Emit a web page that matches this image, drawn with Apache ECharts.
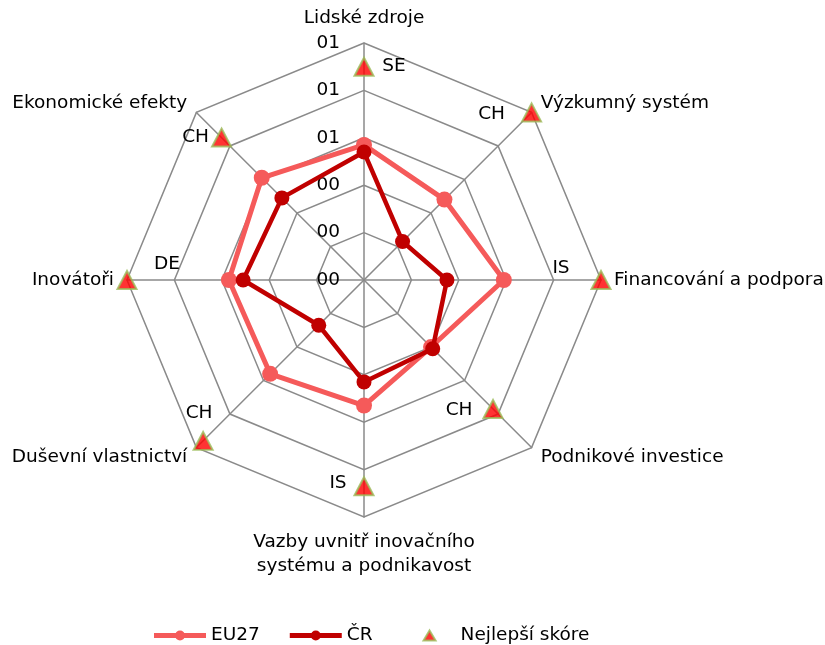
<!DOCTYPE html>
<html>
<head>
<meta charset="utf-8">
<title>Radar</title>
<script src="https://cdn.jsdelivr.net/npm/echarts@6/dist/echarts.min.js"></script>
<style>
    html, body { margin: 0; background: #fff; }
    #chart { width: 825px; height: 645px; }
</style>
</head>
<body>
<div id="chart"></div>
<script>
    // osy grafu (po směru hodinových ručiček od vrcholu)
    var categories = ['Lidské zdroje', 'Výzkumný systém', 'Financování a podpora', 'Podnikové investice',
        'Vazby uvnitř inovačního\nsystému a podnikavost', 'Duševní vlastnictví', 'Inovátoři', 'Ekonomické efekty'];
    var eu27 = [0.57, 0.48, 0.59, 0.40, 0.53, 0.56, 0.57, 0.61];
    var cr = [0.54, 0.23, 0.35, 0.41, 0.43, 0.27, 0.51, 0.49];
    var bestScore = [0.90, 1.00, 1.00, 0.77, 0.87, 0.96, 1.00, 0.85];
    var bestCountry = ['SE', 'CH', 'IS', 'CH', 'IS', 'CH', 'DE', 'CH'];
    var tickLabels = ['00', '00', '00', '01', '01', '01'];

    // posun popisků zemí vůči značce
    var bestLabelOffset = [[30, -1], [-40, 2], [-40, -12], [-34, 1], [-26, -3], [-4, -28], [40, -16], [-26, 0]];

    // radar v echarts jde proti směru hodinových ručiček -> přeskládat
    var order = [0, 7, 6, 5, 4, 3, 2, 1];
    function ccw(arr) { return order.map(function (i) { return arr[i]; }); }

    var center = [364, 280];
    var radius = 237;
    var gridColor = '#8a8a8a';
    var lineDot = 'path://M0,2.5H52V7.5H0Z M21,5a5,5 0 1,1 10,0a5,5 0 1,1 -10,0Z';
    var smallTriangle = 'path://M0,5h0.001M52,5h0.001M20,10L26,0L32,10Z';

    var chart = echarts.init(document.getElementById('chart'));
    chart.setOption({
        animation: false,
        textStyle: { fontFamily: 'DejaVu Sans' },
        legend: {
            left: 149,
            top: 621,
            itemWidth: 52,
            itemHeight: 10,
            itemGap: 30,
            textStyle: { fontSize: 18.5, color: '#000' },
            data: [
                { name: 'EU27', icon: lineDot },
                { name: 'ČR', icon: lineDot },
                { name: 'Nejlepší skóre', icon: smallTriangle }
            ]
        },
        radar: {
            center: center,
            radius: radius,
            shape: 'polygon',
            startAngle: 90,
            splitNumber: 5,
            nameGap: 13,
            axisName: { color: '#000', fontSize: 18.5, lineHeight: 24 },
            indicator: ccw(categories).map(function (c) { return { name: c, min: 0, max: 1 }; }),
            axisLine: { lineStyle: { color: gridColor, width: 1.5 } },
            splitLine: { lineStyle: { color: gridColor, width: 1.5 } },
            splitArea: { show: false }
        },
        polar: { center: center, radius: radius },
        angleAxis: {
            type: 'value', min: 0, max: 8, startAngle: 90, clockwise: true,
            axisLine: { show: false }, axisTick: { show: false },
            axisLabel: { show: false }, splitLine: { show: false }
        },
        radiusAxis: {
            type: 'value', min: 0, max: 1, interval: 0.2,
            axisLine: { show: false }, axisTick: { show: false }, splitLine: { show: false },
            axisLabel: {
                margin: 24, fontSize: 18.5, color: '#000',
                formatter: function (v) { return tickLabels[Math.round(v / 0.2)]; }
            }
        },
        series: [
            {
                type: 'radar', z: 3,
                symbol: 'circle', symbolSize: 16,
                itemStyle: { color: '#f55a5a' },
                lineStyle: { color: '#f55a5a', width: 5 },
                data: [{ name: 'EU27', value: ccw(eu27) }]
            },
            {
                type: 'radar', z: 4,
                symbol: 'circle', symbolSize: 15,
                itemStyle: { color: '#c00000' },
                lineStyle: { color: '#c00000', width: 4.5 },
                data: [{ name: 'ČR', value: ccw(cr) }]
            },
            {
                type: 'scatter', name: 'Nejlepší skóre', z: 5,
                coordinateSystem: 'polar',
                symbol: 'triangle', symbolSize: [19, 18],
                itemStyle: { color: '#ff0000', borderColor: '#9bbb59', borderWidth: 2 },
                label: {
                    show: true, position: ['50%', '50%'], align: 'center', verticalAlign: 'middle',
                    color: '#000', fontSize: 18.5, opacity: 1, textBorderWidth: 0
                },
                emphasis: { disabled: true },
                data: bestScore.map(function (v, i) {
                    return {
                        value: [v, i],
                        label: { offset: bestLabelOffset[i], formatter: bestCountry[i], color: '#000' }
                    };
                })
            }
        ]
    });
</script>
</body>
</html>
